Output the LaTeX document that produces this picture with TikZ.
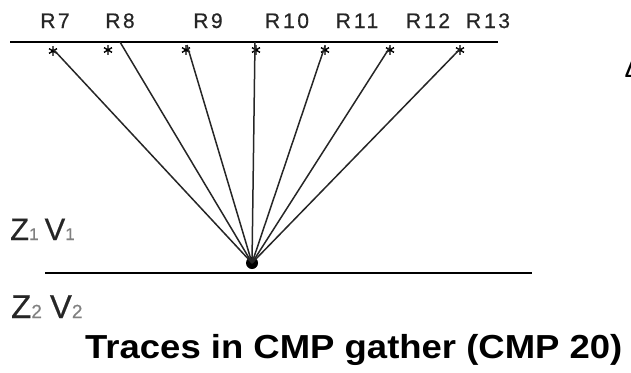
\documentclass[tikz,border=0pt]{standalone}
\usepackage{fontspec}
\setmainfont{Liberation Sans}
\newfontfamily\rfont[LetterSpace=12,FakeBold=0.6]{Liberation Sans}
\newfontfamily\zfont[FakeBold=0.4]{Liberation Sans}
\begin{document}
\begin{tikzpicture}[x=1pt,y=-1pt,
  ray/.style={draw=black!85, line width=1.5pt},
  ground/.style={draw=black, line width=2.2pt},
  rlab/.style={font=\rfont\fontsize{21}{21}\selectfont, text=black!85, anchor=base, inner sep=0pt},
  layer/.style={font=\zfont\fontsize{31}{31}\selectfont, text=black!85, anchor=base west, inner sep=0pt},
  astk/.pic={\draw[line width=1.4pt, black] (0,-4.8)--(0,4.8) (-4,-2.4)--(4,2.4) (-4,2.4)--(4,-2.4);}]
\useasboundingbox (0,0) rectangle (631,372);
% surface and reflector
\coordinate (tl) at (10,42);
\coordinate (tr) at (498,42);
\coordinate (bl) at (45,273);
\coordinate (br) at (532,273);
\draw[ground] (tl) -- (tr);
\draw[ground] (bl) -- (br);
% receiver labels
\node[rlab] (l7) at (55,28) {R7};
\node[rlab] (l8) at (120,28) {R8};
\node[rlab] (l9) at (208,28) {R9};
\node[rlab] (l10) at (287,28) {R\kern3pt10};
\node[rlab] (l11) at (357,28) {R\kern3pt11};
\node[rlab] (l12) at (428,28) {R\kern3pt12};
\node[rlab] (l13) at (488,28) {R\kern3pt13};
% ray end points
\coordinate (e7) at (53,49);
\coordinate (e8) at (120,42);
\coordinate (e9) at (187,45);
\coordinate (e10) at (255,42);
\coordinate (e11) at (325,46);
\coordinate (e12) at (390,47);
\coordinate (e13) at (460,49);
% receivers (asterisks)
\pic at (53,51) {astk};
\pic at (108,50) {astk};
\pic at (186,50) {astk};
\pic at (256,50) {astk};
\pic at (325,50) {astk};
\pic at (390,50) {astk};
\pic at (460,50) {astk};
% reflection point
\node[circle, fill=black, inner sep=0pt, minimum size=12pt] (rp) at (252,263) {};
\foreach \i in {7,...,13} {\draw[ray] (rp.center) -- (e\i);}
% layer labels
\node[layer] (z1) at (10,240) {Z\textcolor{black!50}{\fontsize{17}{17}\selectfont 1}\kern6pt V\textcolor{black!50}{\fontsize{17}{17}\selectfont 1}};
\node[layer, font=\zfont\fontsize{33}{33}\selectfont] (z2) at (11,318) {Z\textcolor{black!50}{\fontsize{19}{19}\selectfont 2}\kern8pt V\textcolor{black!50}{\fontsize{19}{19}\selectfont 2}};
% title
\node[anchor=base west, inner sep=0pt, font=\bfseries\fontsize{32}{32}\selectfont] (title) at (85,358) {\scalebox{1.14}[1.04]{Traces in CMP gather (CMP 20)}};
% partial glyph at right edge
\node[anchor=base, inner sep=0pt, font=\fontsize{28}{28}\selectfont] (delta) at (634,77) {Δ};
\end{tikzpicture}
\end{document}
